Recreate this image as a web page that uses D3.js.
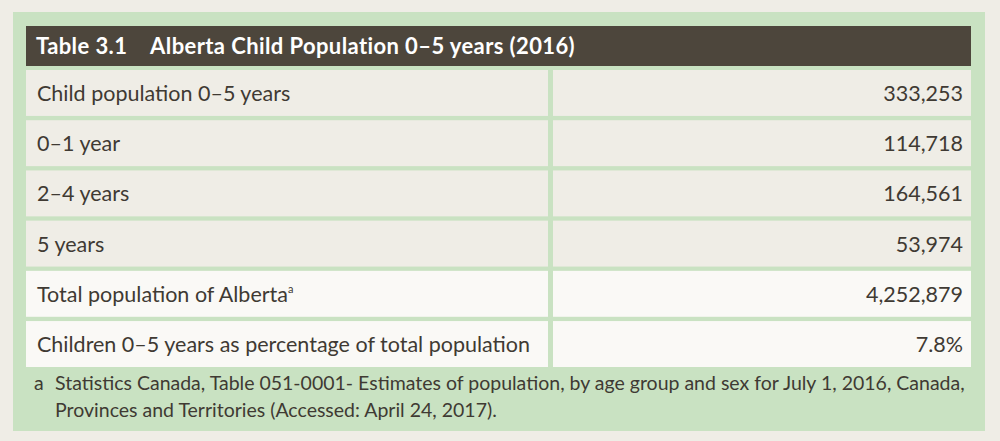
<!DOCTYPE html>
<html><head><meta charset="utf-8">
<script src="https://cdn.jsdelivr.net/npm/d3@7"></script>
<style>body{margin:0;background:#efede6}</style>
</head><body>
<svg id="chart" width="1000" height="441"></svg>
<script>
var TITLE = "Table 3.1\u2002\u2002Alberta Child Population 0\u20135 years (2016)";
var LABELS = ["Child population 0\u20135 years", "0\u20131 year", "2\u20134 years", "5 years",
              "Total population of Alberta", "Children 0\u20135 years as percentage of total population"];
var VALUES = ["333,253", "114,718", "164,561", "53,974", "4,252,879", "7.8%"];
var SUPER = ["", "", "", "", "a", ""];
var NOTES = ["Statistics Canada, Table 051-0001- Estimates of population, by age group and sex for July 1, 2016, Canada,",
             "Provinces and Territories (Accessed: April 24, 2017)."];

var svg = d3.select("#chart");
var font = "Lato, 'Open Sans', sans-serif";
var ink = "#3f3a33";

svg.append("rect").attr("x", 13).attr("y", 12).attr("width", 972).attr("height", 419).attr("fill", "#c9e2c2");
svg.append("rect").attr("x", 26).attr("y", 26).attr("width", 945).attr("height", 40).attr("fill", "#4d463c");
svg.append("text").attr("x", 36).attr("y", 54).attr("fill", "#fff")
  .attr("font-family", font).attr("font-weight", "bold").attr("font-size", 22)
  .attr("letter-spacing", 0.4).text(TITLE);

var y = d3.scaleBand().domain(d3.range(LABELS.length)).range([70, 367]).paddingInner(0.085);

var rows = svg.selectAll("g.row").data(LABELS).enter().append("g").attr("class", "row")
  .attr("transform", function (d, i) { return "translate(0," + y(i) + ")"; });

rows.append("rect").attr("x", 26).attr("width", 522).attr("height", y.bandwidth())
  .attr("fill", function (d, i) { return i < 4 ? "#efede6" : "#faf9f6"; });
rows.append("rect").attr("x", 553).attr("width", 418).attr("height", y.bandwidth())
  .attr("fill", function (d, i) { return i < 4 ? "#efede6" : "#faf9f6"; });

var lt = rows.append("text").attr("x", 37).attr("y", y.bandwidth() / 2 + 8)
  .attr("font-family", font).attr("font-size", 21.5).attr("fill", ink)
  .text(function (d) { return d; });
lt.append("tspan").attr("font-size", 11).attr("dy", -9).text(function (d, i) { return SUPER[i]; });

rows.append("text").attr("x", 963).attr("y", y.bandwidth() / 2 + 8).attr("text-anchor", "end")
  .attr("font-family", font).attr("font-size", 21.5).attr("fill", ink)
  .text(function (d, i) { return VALUES[i]; });

svg.append("text").attr("x", 34).attr("y", 390).attr("font-family", font).attr("font-size", 19.5)
  .attr("fill", ink).text("a");
svg.selectAll("text.note").data(NOTES).enter().append("text").attr("class", "note")
  .attr("x", 55).attr("y", function (d, i) { return 390 + i * 27; })
  .attr("font-family", font).attr("font-size", 19.5).attr("fill", ink)
  .text(function (d) { return d; });
</script>
</body></html>
